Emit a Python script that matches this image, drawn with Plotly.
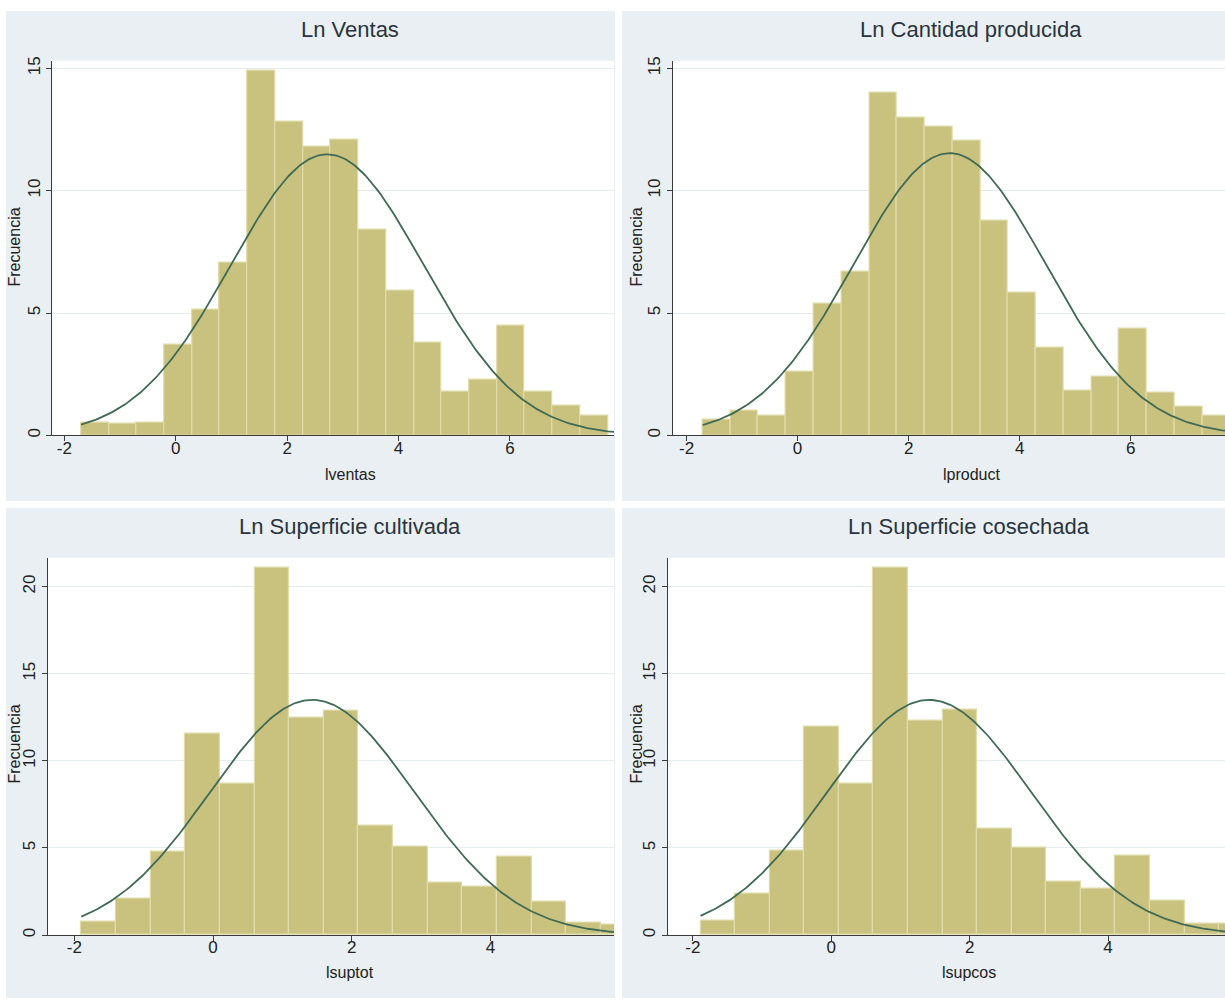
import numpy as np
import plotly.graph_objects as go

# ---------------- data (percent of observations per bin) ----------------
ventas_pct = [0.54, 0.46, 0.54, 3.69, 5.15, 7.05, 14.9, 12.8, 11.8, 12.1,
              8.39, 5.91, 3.79, 1.79, 2.26, 4.47, 1.79, 1.22, 0.81]
ventas_bin_start = -1.70
ventas_bin_width = 0.498
ventas_mean, ventas_sd = 2.72, 1.73

product_pct = [0.64, 1.0, 0.80, 2.60, 5.38, 6.69, 14.01, 12.97, 12.60, 12.05,
               8.77, 5.85, 3.60, 1.84, 2.38, 4.36, 1.73, 1.18, 0.81]
product_bin_start = -1.71
product_bin_width = 0.500
product_mean, product_sd = 2.74, 1.73

suptot_pct = [0.76, 2.09, 4.79, 11.54, 8.71, 21.06, 12.45, 12.87, 6.27, 5.08,
              3.00, 2.76, 4.52, 1.90, 0.70, 0.57]
suptot_bin_start = -1.90
suptot_bin_width = 0.4995
suptot_mean, suptot_sd = 1.43, 1.476

supcos_pct = [0.80, 2.38, 4.83, 11.94, 8.71, 21.06, 12.32, 12.93, 6.08, 5.02,
              3.04, 2.66, 4.56, 2.00, 0.63, 0.63]
supcos_bin_start = -1.89
supcos_bin_width = 0.4997
supcos_mean, supcos_sd = 1.415, 1.477

titles = ["Ln Ventas", "Ln Cantidad producida", "Ln Superficie cultivada", "Ln Superficie cosechada"]
xtitles = ["lventas", "lproduct", "lsuptot", "lsupcos"]
ytitle = "Frecuencia"
xtick_top = [-2, 0, 2, 4, 6]
xtick_top_text = ["-2", "0", "2", "4", "6"]
xtick_bot = [-2, 0, 2, 4]
xtick_bot_text = ["-2", "0", "2", "4"]
ytick_top = [0, 5, 10, 15]
ytick_bot = [0, 5, 10, 15, 20]

# ---------------- styling / layout ----------------
W, H = 1225, 1000
BAR = "#C9C17E"
BAR_LINE = "#E0DBAA"
CURVE = "#3F6A55"
PANEL = "#E9EFF2"
AXIS = "#3a3a3a"
GRID = "#E4ECEF"
FONT = "Liberation Sans, Arial, sans-serif"

panels = [
    dict(pct=ventas_pct, start=ventas_bin_start, w=ventas_bin_width, mu=ventas_mean, sd=ventas_sd,
         l=52.3, r=614, t=57, b=434, xr=[-2.217, 7.87], yr=[0, 15.31],
         xt=xtick_top, xtt=xtick_top_text, yt=ytick_top,
         box=(6, 615, 7, 500), tx=350, ty=26, xtx=350, xty=473, ytx=15, yty=245),
    dict(pct=product_pct, start=product_bin_start, w=product_bin_width, mu=product_mean, sd=product_sd,
         l=672.7, r=1225, t=57, b=434, xr=[-2.25, 7.70], yr=[0, 15.31],
         xt=xtick_top, xtt=xtick_top_text, yt=ytick_top,
         box=(622, 1225, 7, 500), tx=971, ty=26, xtx=971, xty=473, ytx=637, yty=245),
    dict(pct=suptot_pct, start=suptot_bin_start, w=suptot_bin_width, mu=suptot_mean, sd=suptot_sd,
         l=48, r=614, t=557, b=936.7, xr=[-2.38, 5.78], yr=[0, 21.66],
         xt=xtick_bot, xtt=xtick_bot_text, yt=ytick_bot,
         box=(6, 615, 507, 1000), tx=350, ty=526, xtx=350, xty=974, ytx=15, yty=745),
    dict(pct=supcos_pct, start=supcos_bin_start, w=supcos_bin_width, mu=supcos_mean, sd=supcos_sd,
         l=668, r=1225, t=557, b=936.7, xr=[-2.36, 5.69], yr=[0, 21.66],
         xt=xtick_bot, xtt=xtick_bot_text, yt=ytick_bot,
         box=(622, 1225, 507, 1000), tx=969, ty=526, xtx=969, xty=974, ytx=637, yty=745),
]

fig = go.Figure()
shapes = []
annotations = []
layout_axes = {}

for i, p in enumerate(panels):
    k = "" if i == 0 else str(i + 1)
    xa, ya = "x" + k, "y" + k
    n = len(p["pct"])
    lefts = [p["start"] + j * p["w"] for j in range(n)]
    fig.add_trace(go.Bar(
        x=lefts, y=p["pct"], width=p["w"], offset=0,
        marker=dict(color=BAR, line=dict(color=BAR_LINE, width=1.2)),
        xaxis=xa, yaxis=ya, hoverinfo="skip", showlegend=False))
    xs = np.linspace(p["start"], p["start"] + (n + 1) * p["w"], 300)
    ys = 100 * p["w"] * np.exp(-0.5 * ((xs - p["mu"]) / p["sd"]) ** 2) / (p["sd"] * np.sqrt(2 * np.pi))
    fig.add_trace(go.Scatter(
        x=xs, y=ys, mode="lines", line=dict(color=CURVE, width=1.8),
        xaxis=xa, yaxis=ya, hoverinfo="skip", showlegend=False))

    layout_axes["xaxis" + k] = dict(
        domain=[p["l"] / W, p["r"] / W], range=p["xr"], anchor=ya,
        tickvals=p["xt"], ticktext=p["xtt"], ticks="outside", ticklen=5, tickcolor=AXIS, tickwidth=1,
        ticklabelstandoff=-8,
        showline=True, linecolor=AXIS, linewidth=1, showgrid=False, zeroline=False,
        tickfont=dict(family=FONT, size=17, color="#222222"), fixedrange=True)
    layout_axes["yaxis" + k] = dict(
        domain=[1 - p["b"] / H, 1 - p["t"] / H], range=p["yr"], anchor=xa,
        tickvals=p["yt"], ticks="outside", ticklen=5, tickcolor=AXIS, tickwidth=1,
        tickangle=-90, showline=True, linecolor=AXIS, linewidth=1,
        showgrid=True, gridcolor=GRID, gridwidth=1, zeroline=False,
        tickfont=dict(family=FONT, size=17, color="#222222"), fixedrange=True)

    bx0, bx1, by0, by1 = p["box"]
    shapes.append(dict(type="rect", xref="paper", yref="paper", layer="below",
                       x0=bx0 / W, x1=bx1 / W, y0=1 - by1 / H, y1=1 - by0 / H,
                       fillcolor=PANEL, line=dict(width=0)))
    shapes.append(dict(type="rect", xref="paper", yref="paper", layer="below",
                       x0=p["l"] / W, x1=p["r"] / W, y0=1 - p["b"] / H, y1=1 - p["t"] / H,
                       fillcolor="white", line=dict(width=0)))

    annotations.append(dict(text=titles[i], xref="paper", yref="paper",
                            x=p["tx"] / W, y=1 - p["ty"] / H, showarrow=False,
                            xanchor="center", yanchor="middle",
                            font=dict(family=FONT, size=22, color="#2a3440")))
    annotations.append(dict(text=xtitles[i], xref="paper", yref="paper",
                            x=p["xtx"] / W, y=1 - p["xty"] / H, showarrow=False,
                            xanchor="center", yanchor="middle",
                            font=dict(family=FONT, size=16, color="#222222")))
    annotations.append(dict(text=ytitle, xref="paper", yref="paper", textangle=-90,
                            x=p["ytx"] / W, y=1 - p["yty"] / H, showarrow=False,
                            xanchor="center", yanchor="middle",
                            font=dict(family=FONT, size=16, color="#222222")))

fig.update_layout(
    width=W, height=H, margin=dict(l=0, r=0, t=0, b=0),
    paper_bgcolor="white", plot_bgcolor="white",
    showlegend=False, barmode="overlay", bargap=0,
    shapes=shapes, annotations=annotations, **layout_axes)

fig.write_html("out.html", config={"displayModeBar": False},
               post_script="document.body.style.margin='0px';")
